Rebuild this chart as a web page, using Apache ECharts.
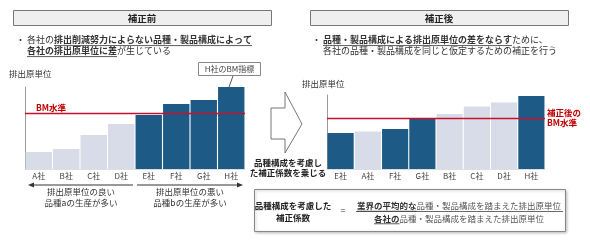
<!DOCTYPE html>
<html><head><meta charset="utf-8">
<script src="https://cdn.jsdelivr.net/npm/echarts@6/dist/echarts.min.js"></script>
<style>html,body{margin:0;padding:0;background:#fff}#c{width:590px;height:242px}</style>
</head><body><div id="c"></div>
<script>
// ---- data ----
const leftCats = ['A社','B社','C社','D社','E社','F社','G社','H社'];
const leftVals = [17, 20, 34, 45, 54, 65, 69, 82];
const leftDark = [false,false,false,false,true,true,true,true];
const leftBM = 55.5;
const rightCats = ['E社','A社','F社','G社','B社','C社','D社','H社'];
const rightVals = [36, 37.5, 40, 50, 55, 62.5, 66.5, 73];
const rightDark = [true,false,true,true,false,false,false,true];
const rightBM = 50.5;

const FONT = '"Noto Sans CJK JP","Noto Sans CJK SC",sans-serif';
const DARK = '#1d5b86', LIGHT = '#d8dce8', RED = '#c8102e';

const cv = document.createElement('canvas').getContext('2d');
function tw(t, size, bold){ cv.font = (bold?'bold ':'') + size + 'px ' + FONT; return cv.measureText(t).width; }

const g = [];
function txt(x, y, t, size, opts){
  opts = opts || {};
  g.push({type:'text', x:x, y:y, z:10, style:{text:t, fontFamily:FONT, fontSize:size,
    fontWeight:opts.bold?'bold':'normal', fill:opts.color||'#333',
    textAlign:opts.align||'left', textVerticalAlign:'middle'}});
}
function segLine(x, y, segs, size, align){
  let total = segs.reduce((s,sg)=>s+tw(sg.t,size,sg.b),0);
  let cx = align==='center' ? x - total/2 : x;
  segs.forEach(sg=>{
    const w = tw(sg.t,size,sg.b);
    txt(cx, y, sg.t, size, {bold:sg.b, color:sg.c||'#333'});
    if (sg.u) g.push({type:'line', z:10, shape:{x1:cx, y1:y+size*0.62, x2:cx+w, y2:y+size*0.62}, style:{stroke:'#333', lineWidth:0.8}});
    cx += w;
  });
}
function rect(x,y,w,h,fill,stroke,lw){
  g.push({type:'rect', z:1, shape:{x:x,y:y,width:w,height:h}, style:{fill:fill, stroke:stroke, lineWidth:lw||1}});
}

// title boxes
rect(13.5,10.5,258,15,'#efefef','#777');
txt(142,18,'補正前',9.5,{bold:true,align:'center',color:'#222'});
rect(310.5,10.5,258,15,'#efefef','#777');
txt(439,18,'補正後',9.5,{bold:true,align:'center',color:'#222'});

// bullets
txt(16,40,'・',9);
segLine(27,40,[{t:'各社の'},{t:'排出削減努力によらない品種・製品構成によって',b:true,u:true}],9);
segLine(27,51,[{t:'各社の排出原単位に差',b:true,u:true},{t:'が生じている'}],9);
txt(312,40,'・',9);
segLine(323,40,[{t:'品種・製品構成による排出原単位の差をならす',b:true,u:true},{t:'ために、'}],9);
segLine(323,51,[{t:'各社の品種・製品構成を同じと仮定するための補正を行う'}],9);

// axis titles
txt(9,74,'排出原単位',8.5,{color:'#333'});
txt(302,84,'排出原単位',8.5,{color:'#333'});

// H BM box
rect(198.5,62.5,62,13,'#fff','#888');
txt(229.5,69,'H社のBM指標',8,{align:'center',color:'#444'});
g.push({type:'line', z:10, shape:{x1:233,y1:76,x2:229,y2:87}, style:{stroke:'#555',lineWidth:1}});

// BM text
txt(36,108,'BM水準',8.5,{bold:true,color:'#c00000'});
txt(547,113,'補正後の',8.5,{bold:true,color:'#c00000'});
txt(547,123,'BM水準',8.5,{bold:true,color:'#c00000'});

// arrows below left chart
g.push({type:'line', z:10, shape:{x1:31,y1:185,x2:133,y2:185}, style:{stroke:'#333',lineWidth:1}});
g.push({type:'polygon', z:10, shape:{points:[[28,185],[34,182.5],[34,187.5]]}, style:{fill:'#333'}});
g.push({type:'line', z:10, shape:{x1:137,y1:185,x2:240,y2:185}, style:{stroke:'#333',lineWidth:1}});
g.push({type:'polygon', z:10, shape:{points:[[243,185],[237,182.5],[237,187.5]]}, style:{fill:'#333'}});
txt(81,192,'排出原単位の良い',8.5,{align:'center'});
txt(81,203,'品種aの生産が多い',8.5,{align:'center'});
txt(190,192,'排出原単位の悪い',8.5,{align:'center'});
txt(190,203,'品種bの生産が多い',8.5,{align:'center'});

// big arrow
g.push({type:'polygon', z:2, shape:{points:[[271,108],[285,108],[285,92],[302,124],[285,153],[285,139],[271,139]]},
  style:{fill:'#fff', stroke:'#777', lineWidth:1}});
txt(288,163,'品種構成を考慮し',8.5,{bold:true,align:'center',color:'#222'});
txt(288,173,'た補正係数を乗じる',8.5,{bold:true,align:'center',color:'#222'});

// formula box
g.push({type:'rect', z:1, shape:{x:254.5,y:189.5,width:311,height:42}, style:{fill:'#fff', stroke:'#888', lineWidth:1, shadowBlur:3, shadowColor:'rgba(0,0,0,0.25)', shadowOffsetX:1, shadowOffsetY:1}});
txt(293,206,'品種構成を考慮した',8.5,{bold:true,align:'center',color:'#222'});
txt(293,218,'補正係数',8.5,{bold:true,align:'center',color:'#222'});
txt(343,211,'=',9,{align:'center',color:'#333'});
segLine(459,206,[{t:'業界の平均的な',b:true,u:true},{t:'品種・製品構成を踏まえた排出原単位',c:'#555'}],8.5,'center');
g.push({type:'line', z:10, shape:{x1:356,y1:211.5,x2:563,y2:211.5}, style:{stroke:'#444',lineWidth:0.8}});
segLine(459,218.5,[{t:'各社の',b:true,u:true},{t:'品種・製品構成を踏まえた排出原単位',c:'#555'}],8.5,'center');

function mkData(vals, dark){ return vals.map((v,i)=>({value:v, itemStyle:{color: dark[i]?DARK:LIGHT}})); }
const axisLbl = {fontSize:8, color:'#444', fontFamily:FONT, margin:3};

const chart = echarts.init(document.getElementById('c'), null, {renderer:'canvas'});
chart.setOption({
  animation:false,
  grid:[{left:25, top:87, width:220, height:82},{left:327, top:95, width:218, height:74}],
  xAxis:[
    {gridIndex:0, type:'category', data:leftCats, axisTick:{show:false}, axisLine:{lineStyle:{color:'#ddd'}}, axisLabel:axisLbl},
    {gridIndex:1, type:'category', data:rightCats, axisTick:{show:false}, axisLine:{lineStyle:{color:'#ddd'}}, axisLabel:axisLbl}
  ],
  yAxis:[
    {gridIndex:0, type:'value', min:0, max:82, show:true, axisLine:{show:true, lineStyle:{color:'#999'}}, axisTick:{show:false}, axisLabel:{show:false}, splitLine:{show:false}},
    {gridIndex:1, type:'value', min:0, max:74, show:true, axisLine:{show:true, lineStyle:{color:'#999'}}, axisTick:{show:false}, axisLabel:{show:false}, splitLine:{show:false}}
  ],
  series:[
    {type:'bar', xAxisIndex:0, yAxisIndex:0, data:mkData(leftVals,leftDark), barCategoryGap:'4%',
      markLine:{silent:true, symbol:'none', label:{show:false}, lineStyle:{color:RED, width:1.3, type:'solid'}, data:[{yAxis:leftBM}], z:5}},
    {type:'bar', xAxisIndex:1, yAxisIndex:1, data:mkData(rightVals,rightDark), barCategoryGap:'4%',
      markLine:{silent:true, symbol:'none', label:{show:false}, lineStyle:{color:RED, width:1.3, type:'solid'}, data:[{yAxis:rightBM}], z:5}}
  ],
  graphic:g
});
</script></body></html>
